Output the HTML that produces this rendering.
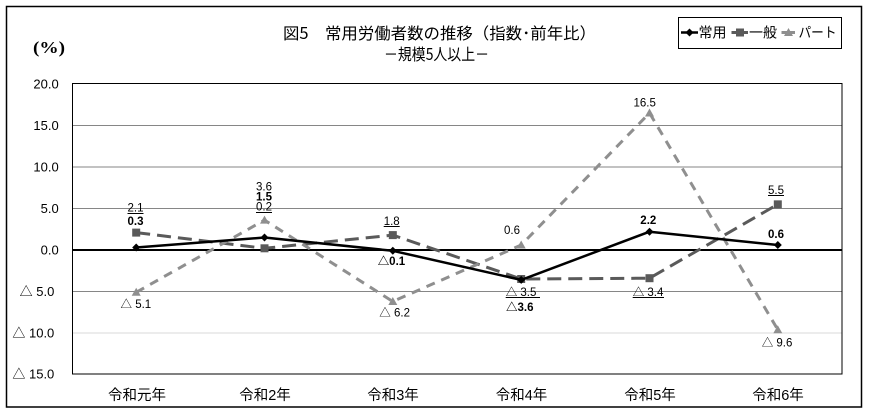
<!DOCTYPE html>
<html><head><meta charset="utf-8">
<style>
html,body{margin:0;padding:0;background:#fff;}
svg{display:block;}
text{font-family:"Liberation Sans","Noto Sans CJK JP",sans-serif;fill:#000;}
.cjk{font-family:"Noto Sans CJK JP","Liberation Sans",sans-serif;}
.ax{font-size:13px;}
.dl{font-size:11.5px;}
.b{font-weight:bold;}
</style></head>
<body>
<svg width="870" height="418" viewBox="0 0 870 418" xmlns="http://www.w3.org/2000/svg">
<rect x="0" y="0" width="870" height="418" fill="#fff"/>
<rect x="6.5" y="6.5" width="855" height="400.5" fill="none" stroke="#000" stroke-width="1.5"/>

<!-- title -->
<text class="cjk" x="283" y="32" font-size="16" dominant-baseline="central" textLength="313" lengthAdjust="spacingAndGlyphs">図5　常用労働者数の推移（指数･前年比）</text>
<text class="cjk" x="384" y="52.8" font-size="16" dominant-baseline="central" textLength="105" lengthAdjust="spacingAndGlyphs">－規模5人以上－</text>

<!-- (%) -->
<text x="33" y="53" font-size="17" font-weight="bold" style="font-family:'Liberation Serif',serif" textLength="32" lengthAdjust="spacingAndGlyphs">(%)</text>

<!-- legend -->
<rect x="678.5" y="17.5" width="163" height="31" fill="#fff" stroke="#000" stroke-width="1"/>
<line x1="681" y1="32.5" x2="698" y2="32.5" stroke="#000" stroke-width="2.5"/>
<polygon points="689.5,28.5 693.5,32.5 689.5,36.5 685.5,32.5" fill="#000"/>
<text class="cjk" x="698.5" y="32.5" font-size="14" dominant-baseline="central">常用</text>
<line x1="731.5" y1="32.5" x2="748" y2="32.5" stroke="#5a5a5a" stroke-width="3"/>
<rect x="736" y="28.5" width="8" height="8" fill="#5a5a5a"/>
<text class="cjk" x="749" y="32.5" font-size="14" dominant-baseline="central">一般</text>
<line x1="781.5" y1="32.5" x2="795" y2="32.5" stroke="#8f8f8f" stroke-width="3"/>
<polygon points="788.5,28 793,36 784,36" fill="#8f8f8f"/>
<text class="cjk" x="798.5" y="32.5" font-size="14" dominant-baseline="central" textLength="38" lengthAdjust="spacingAndGlyphs">パート</text>

<!-- gridlines -->
<g stroke-width="1">
<line x1="72" y1="125.5" x2="842" y2="125.5" stroke="#868686"/>
<line x1="72" y1="167" x2="842" y2="167" stroke="#868686"/>
<line x1="72" y1="208.5" x2="842" y2="208.5" stroke="#868686"/>
<line x1="72" y1="291.5" x2="842" y2="291.5" stroke="#868686"/>
<line x1="72" y1="333" x2="842" y2="333" stroke="#d9d9d9"/>
</g>
<rect x="72.5" y="83.5" width="769.5" height="290.5" fill="none" stroke="#000" stroke-width="1"/>
<line x1="72" y1="250" x2="842" y2="250" stroke="#000" stroke-width="2"/>

<!-- y labels -->
<g class="ax" text-anchor="end">
<text x="58.7" y="88.3">20.0</text>
<text x="58.7" y="130">15.0</text>
<text x="58.7" y="171.5">10.0</text>
<text x="58.7" y="213">5.0</text>
<text x="58.7" y="254.5">0.0</text>
<text x="54.3" y="296">△ 5.0</text>
<text x="54.3" y="337.5">△ 10.0</text>
<text x="54.3" y="378.5">△ 15.0</text>
</g>

<!-- x labels -->
<g class="cjk" font-size="14.5" text-anchor="middle">
<text x="137" y="400">令和元年</text>
<text x="265" y="400">令和2年</text>
<text x="393" y="400">令和3年</text>
<text x="521.5" y="400">令和4年</text>
<text x="650" y="400">令和5年</text>
<text x="778" y="400">令和6年</text>
</g>

<!-- series: 一般 -->
<polyline points="136.2,232.6 264.5,248.3 392.8,235.1 521.2,279 649.5,278.2 777.8,204.35" fill="none" stroke="#5a5a5a" stroke-width="3" stroke-dasharray="14 7" stroke-linejoin="round"/>
<g fill="#5a5a5a">
<rect x="132.2" y="228.6" width="8" height="8"/>
<rect x="260.5" y="244.3" width="8" height="8"/>
<rect x="388.8" y="231.1" width="8" height="8"/>
<rect x="517.2" y="275" width="8" height="8"/>
<rect x="645.5" y="274.2" width="8" height="8"/>
<rect x="773.8" y="200.35" width="8" height="8"/>
</g>

<!-- series: パート -->
<polyline points="136.2,292.3 264.5,220.1 392.8,301.5 521.2,245 649.5,113 777.8,329.7" fill="none" stroke="#8f8f8f" stroke-width="3" stroke-dasharray="9 7" stroke-linejoin="round"/>
<g fill="#8f8f8f">
<polygon points="136.2,287.8 140.7,295.8 131.7,295.8"/>
<polygon points="264.5,215.6 269,223.6 260,223.6"/>
<polygon points="392.8,297 397.3,305 388.3,305"/>
<polygon points="521.2,240.5 525.7,248.5 516.7,248.5"/>
<polygon points="649.5,108.5 654,116.5 645,116.5"/>
<polygon points="777.8,325.2 782.3,333.2 773.3,333.2"/>
</g>

<!-- series: 常用 -->
<polyline points="136.2,247.5 264.5,237.55 392.8,250.8 521.2,279.9 649.5,231.7 777.8,245" fill="none" stroke="#000" stroke-width="2.5" stroke-linejoin="round"/>
<g fill="#000">
<polygon points="136.2,243.5 140.2,247.5 136.2,251.5 132.2,247.5"/>
<polygon points="264.5,233.55 268.5,237.55 264.5,241.55 260.5,237.55"/>
<polygon points="392.8,246.8 396.8,250.8 392.8,254.8 388.8,250.8"/>
<polygon points="521.2,275.9 525.2,279.9 521.2,283.9 517.2,279.9"/>
<polygon points="649.5,227.7 653.5,231.7 649.5,235.7 645.5,231.7"/>
<polygon points="777.8,241 781.8,245 777.8,249 773.8,245"/>
</g>

<!-- data labels -->
<g class="dl">
<text x="135.5" y="211.7" text-anchor="middle">2.1</text>
<text x="135.5" y="225" text-anchor="middle" class="b">0.3</text>
<text x="120.5" y="308">△ 5.1</text>

<text x="264" y="190.7" text-anchor="middle">3.6</text>
<text x="264" y="200.7" text-anchor="middle" class="b">1.5</text>
<text x="264" y="210.7" text-anchor="middle">0.2</text>

<text x="391.7" y="225" text-anchor="middle">1.8</text>
<text x="377.7" y="265" class="b">△0.1</text>
<text x="379.3" y="316.5">△ 6.2</text>

<text x="512" y="234" text-anchor="middle">0.6</text>
<text x="505.7" y="296">△ 3.5</text>
<text x="506" y="311" class="b">△3.6</text>

<text x="648.3" y="224" text-anchor="middle" class="b">2.2</text>
<text x="644.7" y="106.7" text-anchor="middle">16.5</text>
<text x="632.7" y="296">△ 3.4</text>

<text x="776" y="194" text-anchor="middle">5.5</text>
<text x="776" y="238" text-anchor="middle" class="b">0.6</text>
<text x="761.7" y="346.5">△ 9.6</text>
</g>
<!-- underlines -->
<g stroke="#000" stroke-width="1">
<line x1="127.5" y1="213.5" x2="143.5" y2="213.5"/>
<line x1="256" y1="212.5" x2="272" y2="212.5"/>
<line x1="383.7" y1="226.5" x2="399.7" y2="226.5"/>
<line x1="505.7" y1="297.5" x2="540" y2="297.5"/>
<line x1="632.7" y1="297.5" x2="664" y2="297.5"/>
<line x1="768" y1="195.5" x2="784" y2="195.5"/>
</g>
</svg>
</body></html>
